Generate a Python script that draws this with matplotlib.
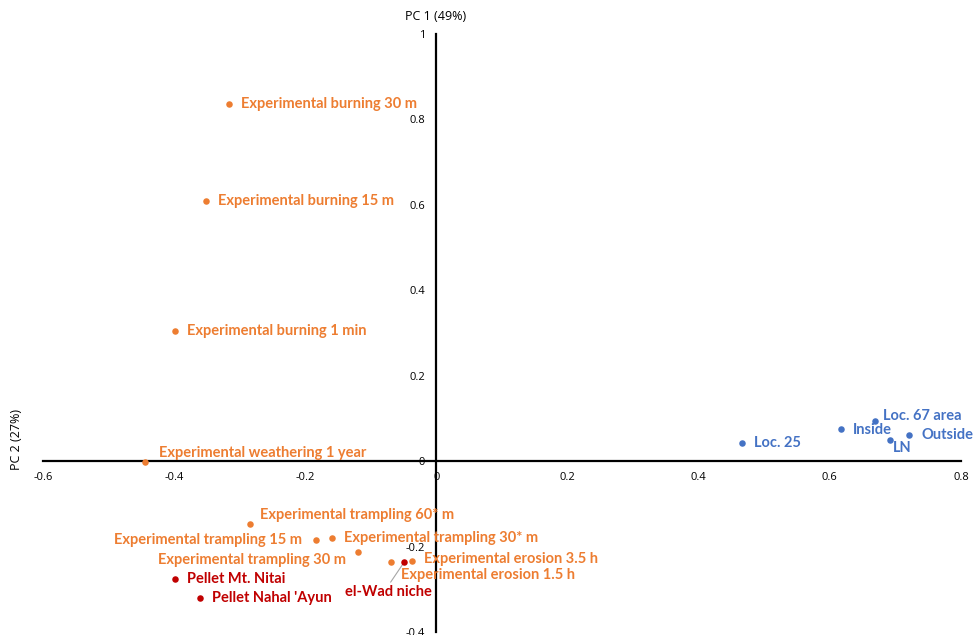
import matplotlib
matplotlib.use("Agg")
import matplotlib.pyplot as plt

plt.rcParams["font.family"] = ["Lato", "DejaVu Sans"]

ORANGE = "#ED7D31"
BLUE = "#4472C4"
RED = "#C00000"

# experimental samples (orange)
exp_names = [
    "Experimental burning 30 m",
    "Experimental burning 15 m",
    "Experimental burning 1 min",
    "Experimental weathering 1 year",
    "Experimental trampling 60* m",
    "Experimental trampling 15 m",
    "Experimental trampling 30* m",
    "Experimental trampling 30 m",
    "Experimental erosion 1.5 h",
    "Experimental erosion 3.5 h",
]
exp_x = [-0.317, -0.352, -0.399, -0.445, -0.285, -0.183, -0.159, -0.120, -0.069, -0.038]
exp_y = [0.836, 0.610, 0.304, -0.002, -0.147, -0.185, -0.180, -0.213, -0.236, -0.234]

# pellets / niche (dark red)
red_names = ["Pellet Mt. Nitai", "Pellet Nahal 'Ayun", "el-Wad niche"]
red_x = [-0.398, -0.361, -0.049]
red_y = [-0.276, -0.320, -0.236]

# site samples (blue)
blue_names = ["Loc. 25", "Inside", "Loc. 67 area", "LN", "Outside"]
blue_x = [0.466, 0.617, 0.669, 0.692, 0.721]
blue_y = [0.042, 0.075, 0.093, 0.049, 0.061]

x_ticks = [-0.6, -0.4, -0.2, 0, 0.2, 0.4, 0.6, 0.8]
y_ticks = [-0.4, -0.2, 0, 0.2, 0.4, 0.6, 0.8, 1]

# label offsets in pixels (dx, dy, ha)
exp_offsets = [
    (12, 0, "left"), (12, 0, "left"), (12, 0, "left"), (14, 9, "left"),
    (10, 9, "left"), (-14, 0, "right"), (12, 0, "left"), (-12, -8, "right"),
    (10, -13, "left"), (12, 2, "left"),
]
red_offsets = [(12, 0, "left"), (12, 0, "left"), (0, 0, "leader")]
blue_offsets = [(12, 0, "left"), (12, -1, "left"), (8, 5, "left"), (3, -8, "left"), (12, 0, "left")]

fig = plt.figure(figsize=(9.74, 6.35), dpi=100)
ax = fig.add_axes([43 / 974, 3 / 635, 918 / 974, 598 / 635])
ax.set_xlim(-0.6, 0.8)
ax.set_ylim(-0.4, 1.0)

for s in ["top", "right"]:
    ax.spines[s].set_visible(False)
ax.spines["left"].set_position(("data", 0))
ax.spines["bottom"].set_position(("data", 0))
ax.spines["left"].set_linewidth(1.6)
ax.spines["bottom"].set_linewidth(1.6)
ax.set_xticks(x_ticks)
ax.set_yticks(y_ticks)
ax.set_xticklabels(["-0.6", "-0.4", "-0.2", "0", "0.2", "0.4", "0.6", "0.8"])
ax.set_yticklabels(["-0.4", "-0.2", "0", "0.2", "0.4", "0.6", "0.8", "1"])
ax.tick_params(axis="both", length=0, labelsize=8, labelfontfamily="Open Sans")
ax.tick_params(axis="x", pad=8)
ax.tick_params(axis="y", pad=8)

ax.scatter(exp_x, exp_y, s=22, color=ORANGE, zorder=3, linewidths=0)
ax.scatter(blue_x, blue_y, s=22, color=BLUE, zorder=3, linewidths=0)
ax.scatter(red_x, red_y, s=22, color=RED, zorder=4, linewidths=0)


def label(name, x, y, off, color):
    dx, dy, ha = off
    ax.annotate(name, (x, y), xytext=(dx, dy), textcoords="offset pixels",
                ha=ha, va="center", color=color, fontsize=10.5, fontweight="bold")


for n, x, y, o in zip(exp_names, exp_x, exp_y, exp_offsets):
    label(n, x, y, o, ORANGE)
for n, x, y, o in zip(blue_names, blue_x, blue_y, blue_offsets):
    label(n, x, y, o, BLUE)
for n, x, y, o in zip(red_names, red_x, red_y, red_offsets):
    if o[2] == "leader":
        # el-Wad niche has a grey leader line back to its point
        ax.annotate(n, (x, y), xytext=(-59, -30), textcoords="offset pixels",
                    ha="left", va="center", color=RED, fontsize=10.5, fontweight="bold",
                    arrowprops=dict(arrowstyle="-", color="#A6A6A6", lw=0.8,
                                    shrinkA=0, shrinkB=0,
                                    relpos=(0.5, 1.0)))
    else:
        label(n, x, y, o, RED)

fig.text(436 / 974, 1 - 17 / 635, "PC 1 (49%)", ha="center", va="center",
         fontsize=9, family="Open Sans")
fig.text(17 / 974, 1 - 440 / 635, "PC 2 (27%)", ha="center", va="center",
         rotation=90, fontsize=9, family="Open Sans")

fig.savefig("out.png", dpi=100)
